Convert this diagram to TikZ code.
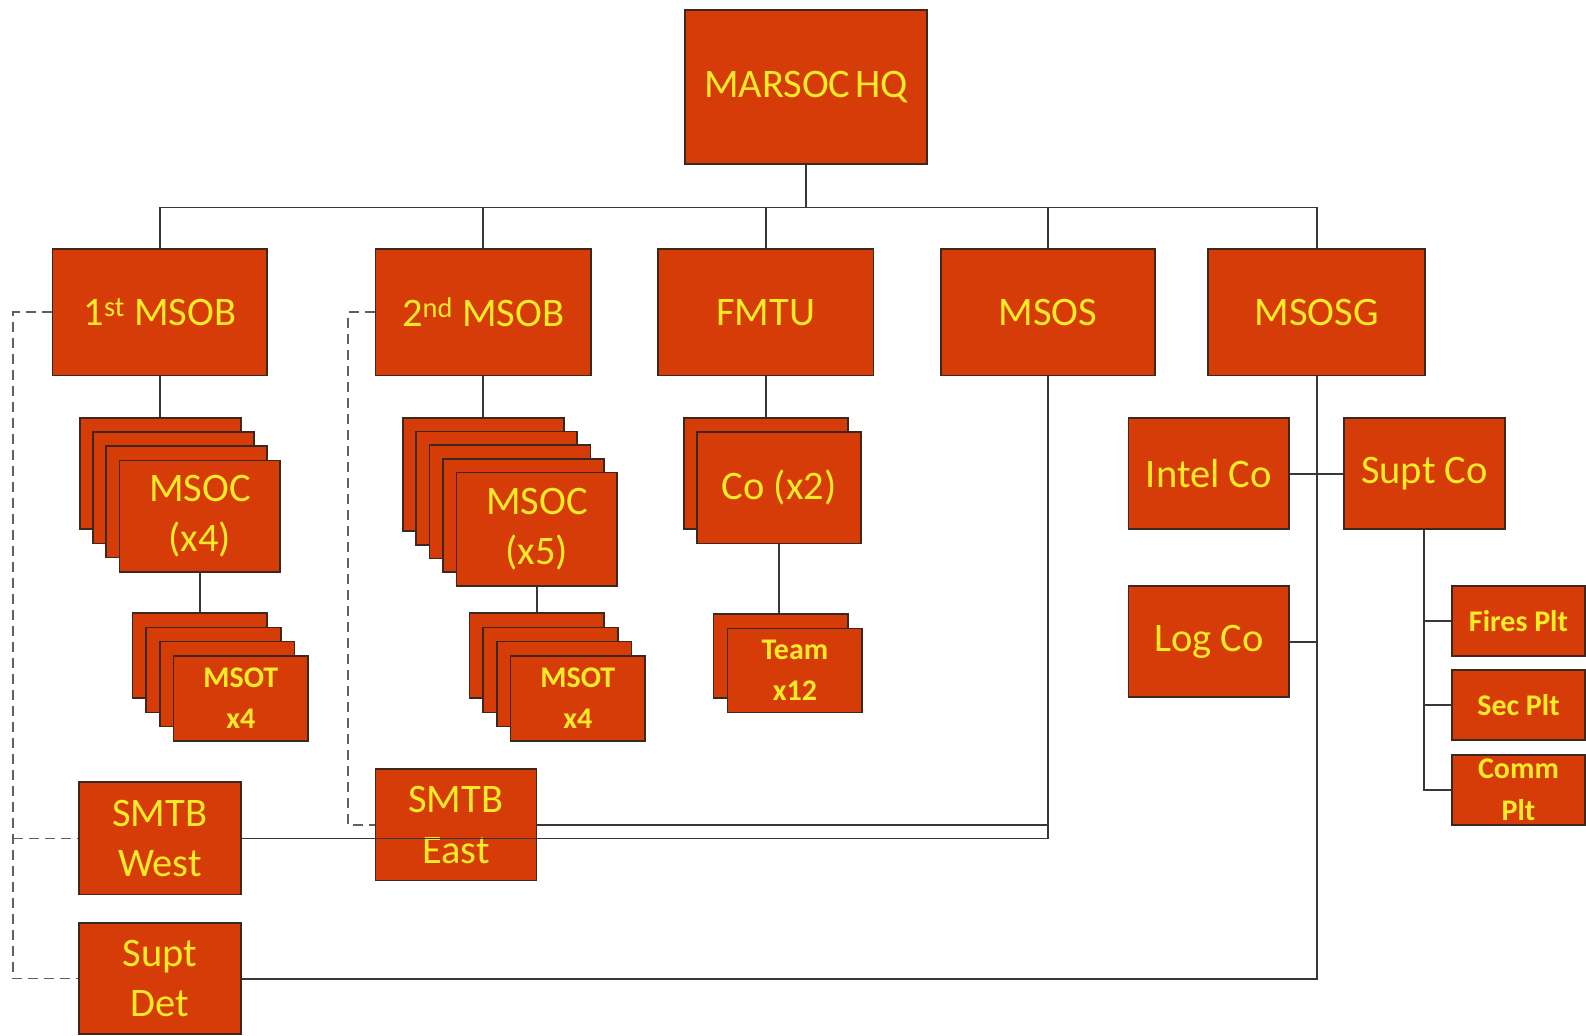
\documentclass[tikz,border=0pt]{standalone}
\usepackage{fontspec}
\setmainfont{Carlito}
\definecolor{boxfill}{RGB}{214,60,8}
\definecolor{boxline}{RGB}{60,40,30}
\definecolor{boxtext}{RGB}{250,235,40}
\definecolor{conn}{RGB}{55,55,55}
\newcommand\ubox[7]{\node[#6, minimum width={(#4-#2)*1.012}, minimum height={(#5-#3)*1.012}] (#1) at ({(#2+#4)/2},{(#3+#5)/2}) {#7};}
\begin{document}
\begin{tikzpicture}[x=1.012pt,y=-1.012pt,
 unit/.style={draw=boxline, line width=1.7pt, fill=boxfill, text=boxtext, inner sep=0pt, align=center, font=\fontsize{40.5}{50.5}\selectfont},
 small/.style={unit, font=\fontsize{30}{41.5}\selectfont\bfseries},
 link/.style={draw=conn, line width=1.9pt},
 dlink/.style={draw=conn!80, line width=1.7pt, dash pattern=on 10pt off 6pt}]
\useasboundingbox[fill=white] (0,0) rectangle (1567.2,1023.7);
% top levels
\ubox{hq}{677}{10}{916}{162}{unit}{MARSOC\hspace{-0.1em} HQ}
\ubox{msob1}{52}{246}{264}{371}{unit}{1\textsuperscript{st} MSOB}
\ubox{msob2}{371}{246}{584}{371}{unit}{2\textsuperscript{nd} MSOB}
\ubox{fmtu}{650}{246}{863}{371}{unit}{FMTU}
\ubox{msos}{930}{246}{1141}{371}{unit}{MSOS}
\ubox{msosg}{1194}{246}{1408}{371}{unit}{MSOSG}
% MSOC stack 1
\ubox{msocAa}{79}{413}{238}{523}{unit}{}
\ubox{msocAb}{92}{427}{251}{537}{unit}{}
\ubox{msocAc}{105}{441}{264}{551}{unit}{}
\ubox{msocAd}{118}{455}{277}{565}{unit}{MSOC\\(x4)}
% MSOT stack 1
\ubox{msotAa}{131}{606}{264}{690}{small}{}
\ubox{msotAb}{144.5}{620}{277.5}{704}{small}{}
\ubox{msotAc}{158}{634}{291}{718}{small}{}
\ubox{msotAd}{171.5}{648}{304.5}{732}{small}{MSOT\\x4}
% MSOC stack 2
\ubox{msocBa}{398}{413}{557}{525}{unit}{}
\ubox{msocBb}{411}{426.5}{570}{538.5}{unit}{}
\ubox{msocBc}{424.5}{440}{583.5}{552}{unit}{}
\ubox{msocBd}{438}{453.5}{597}{565.5}{unit}{}
\ubox{msocBe}{451}{467}{610}{579}{unit}{MSOC\\(x5)}
% MSOT stack 2
\ubox{msotBa}{464}{606}{597}{690}{small}{}
\ubox{msotBb}{477.5}{620}{610.5}{704}{small}{}
\ubox{msotBc}{491}{634}{624}{718}{small}{}
\ubox{msotBd}{504.5}{648}{637.5}{732}{small}{MSOT\\x4}
% FMTU
\ubox{coa}{676}{413}{838}{523}{unit}{}
\ubox{cob}{689}{427}{851}{537}{unit}{Co (x2)}
\ubox{teama}{705}{607}{838}{690}{small}{}
\ubox{teamb}{719}{621}{852}{704}{small}{Team\\x12}
% MSOSG
\ubox{intel}{1115}{413}{1274}{523}{unit}{Intel Co}
\ubox{suptco}{1328}{413}{1487}{523}{unit}{Supt Co}
\ubox{logco}{1115}{579}{1274}{689}{unit}{Log Co}
\ubox{fires}{1435}{579}{1566}{648}{small}{Fires Plt}
\ubox{sec}{1435}{662}{1566}{731}{small}{Sec Plt}
\ubox{comm}{1435}{746}{1566}{815}{small}{Comm\\Plt}
% bottom left
\ubox{smtbw}{78}{773}{238}{884}{unit}{SMTB\\West}
\ubox{smtbe}{371}{760}{530}{870}{unit}{SMTB\\East}
\ubox{suptdet}{78}{912}{238}{1022}{unit}{Supt\\Det}
% coordinates
\coordinate (bus) at (0,205);
\coordinate (lxA) at (13,0);
\coordinate (lxB) at (344,0);
% connectors
\draw[link] (msob1.north) |- (bus -| msosg.north) -- (msosg.north);
\draw[link] (hq.south) -- (hq.south |- bus);
\draw[link] (msob2.north) -- (msob2.north |- bus);
\draw[link] (fmtu.north) -- (fmtu.north |- bus);
\draw[link] (msos.north) -- (msos.north |- bus);
\draw[link] (msob1.south) -- (msob1.south |- msocAa.north);
\draw[link] (msocAd.south) -- (msocAd.south |- msotAa.north);
\draw[link] (msob2.south) -- (msob2.south |- msocBa.north);
\draw[link] (msocBe.south) -- (msocBe.south |- msotBa.north);
\draw[link] (fmtu.south) -- (fmtu.south |- coa.north);
\draw[link] (cob.south) -- (cob.south |- teama.north);
\draw[link] (msos.south) |- (smtbw.east);
\draw[link] (smtbe.east) -- (smtbe.east -| msos.south);
\draw[link] (msosg.south) |- (suptdet.east);
\draw[link] (logco.east) -- (logco.east -| msosg.south);
\draw[link] (intel.east) -- (suptco.west);
\draw[link] (suptco.south) |- (comm.west);
\draw[link] (suptco.south |- fires.west) -- (fires.west);
\draw[link] (suptco.south |- sec.west) -- (sec.west);
\draw[dlink] (msob1.west) -- (msob1.west -| lxA) |- (suptdet.west);
\draw[dlink] (smtbw.west -| lxA) -- (smtbw.west);
\draw[dlink] (msob2.west) -- (msob2.west -| lxB) |- (smtbe.west);
\end{tikzpicture}
\end{document}
